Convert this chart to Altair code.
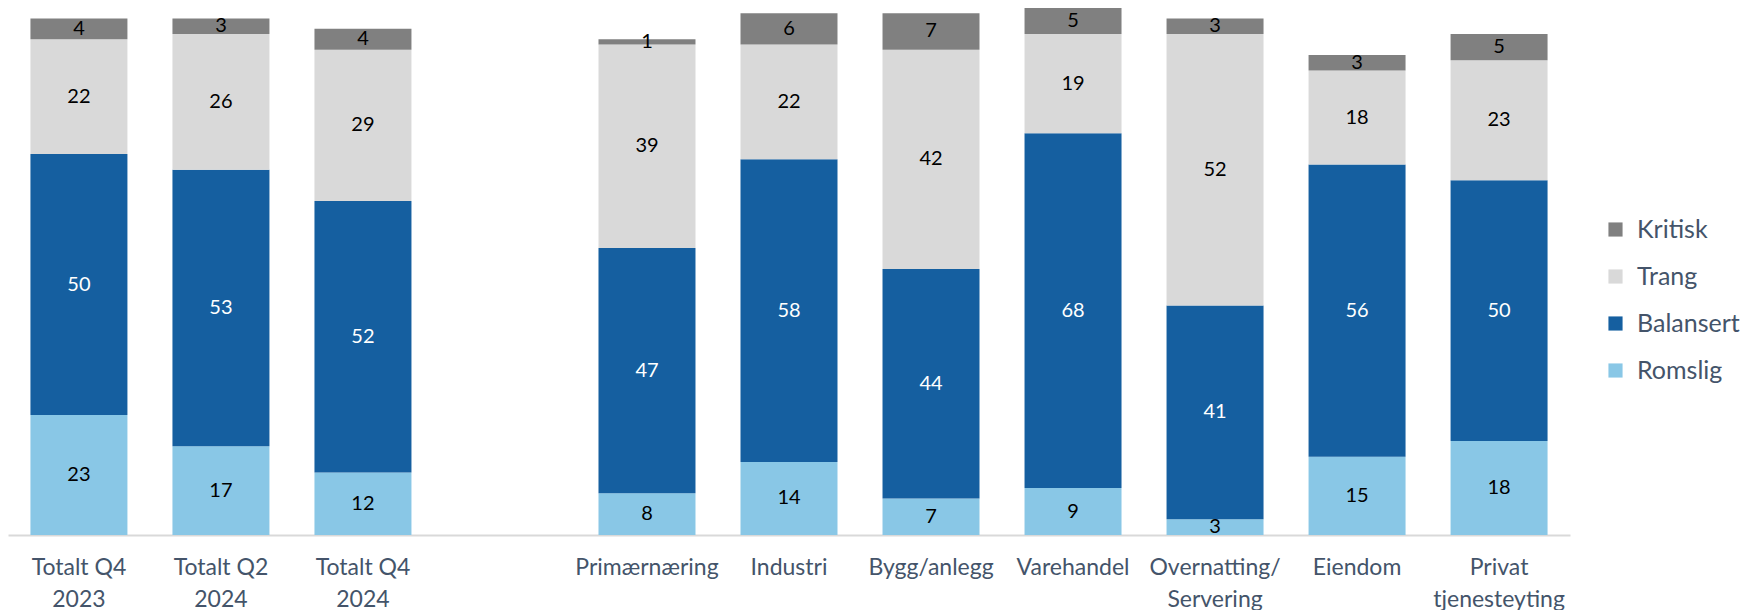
import altair as alt
import pandas as pd

categories = ["Totalt Q4|2023", "Totalt Q2|2024", "Totalt Q4|2024", " ",
              "Primærnæring", "Industri", "Bygg/anlegg", "Varehandel",
              "Overnatting/|Servering", "Eiendom", "Privat|tjenesteyting"]
series = ["Romslig", "Balansert", "Trang", "Kritisk"]
colors = ["#89C7E6", "#155FA0", "#D9D9D9", "#808080"]

romslig   = [23, 17, 12, None, 8, 14, 7, 9, 3, 15, 18]
balansert = [50, 53, 52, None, 47, 58, 44, 68, 41, 56, 50]
trang     = [22, 26, 29, None, 39, 22, 42, 19, 52, 18, 23]
kritisk   = [4, 3, 4, None, 1, 6, 7, 5, 3, 3, 5]

rows = []
for s_i, (name, vals) in enumerate(zip(series, [romslig, balansert, trang, kritisk])):
    for c, v in zip(categories, vals):
        if v is None:
            continue
        rows.append({"cat": c, "serie": name, "order": s_i, "value": v})
df = pd.DataFrame(rows)

base = alt.Chart(df).transform_stack(
    stack="value", groupby=["cat"], as_=["y0", "y1"],
    sort=[alt.SortField("order", order="ascending")]
).transform_calculate(mid="(datum.y0 + datum.y1) / 2")

xscale = alt.Scale(domain=categories, paddingInner=0.317, paddingOuter=0.158)
yscale = alt.Scale(domain=[0, 101], nice=False)

xenc = alt.X("cat:N", title=None, scale=xscale,
             axis=alt.Axis(labelExpr="split(datum.label, '|')", labelAngle=0,
                           labelFont="Lato", labelFontSize=23, labelColor="#44546A",
                           labelLineHeight=32, labelPadding=21, ticks=False,
                           domainColor="#D9D9D9", domainWidth=2, labelBaseline="top",
                           labelLimit=0))

bars = base.mark_bar().encode(
    x=xenc,
    y=alt.Y("y0:Q", scale=yscale, axis=None),
    y2="y1:Q",
    color=alt.Color("serie:N",
                    scale=alt.Scale(domain=series, range=colors),
                    legend=alt.Legend(title=None, orient="none", legendX=1595, legendY=209,
                                      values=["Kritisk", "Trang", "Balansert", "Romslig"],
                                      symbolType="square", symbolSize=200,
                                      symbolStrokeWidth=0, labelFont="Lato",
                                      labelFontSize=25, labelColor="#44546A",
                                      rowPadding=21, labelOffset=9, labelLimit=0)),
)

texts = base.mark_text(font="Lato", fontSize=20, baseline="middle").encode(
    x=alt.X("cat:N", scale=xscale),
    y=alt.Y("mid:Q", scale=yscale),
    text="value:Q",
    color=alt.condition("datum.serie == 'Balansert'", alt.value("white"), alt.value("black")),
)

chart = alt.layer(bars, texts).properties(
    width=1562, height=527, padding=0
).configure_view(stroke=None)

chart.save("out.html", embed_options={"renderer": "svg", "actions": False})
